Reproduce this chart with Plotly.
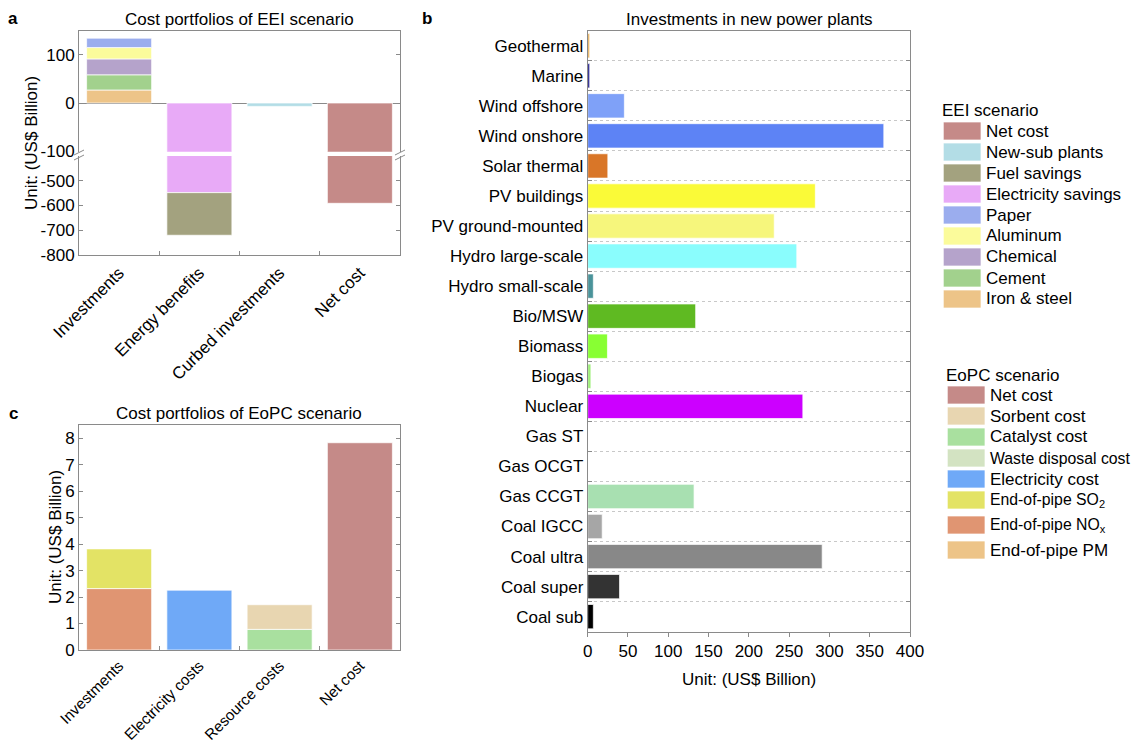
import plotly.graph_objects as go

# The page body has an 8 px margin; the figure is sized to fit the 1143x752 window exactly.
OFF = 8
FW, FH = 1143 - 2 * OFF, 752 - 2 * OFF
FONT = "Arial, Liberation Sans, Helvetica, sans-serif"
GRAY = "#8a8a8a"


def fx(px):
    return (px - OFF) / FW


def fy(py):
    return 1 - (py - OFF) / FH


# ---------------- Panel a: EEI scenario (US$ Billion) ----------------
eei_categories = ["Investments", "Energy benefits", "Curbed investments", "Net cost"]
eei_iron_steel = [27, None, None, None]
eei_cement = [31.5, None, None, None]
eei_chemical = [33, None, None, None]
eei_aluminum = [23.5, None, None, None]
eei_paper = [19.5, None, None, None]
eei_electricity_savings = [None, -548, None, None]
eei_fuel_savings = [None, -172, None, None]
eei_new_sub_plants = [None, None, -7, None]
eei_net_cost = [None, None, None, -591]

eei_upper_ticks = [-100, 0, 100]
eei_lower_ticks = [-800, -700, -600, -500]

eei_legend_labels = ["Net cost", "New-sub plants", "Fuel savings", "Electricity savings",
                     "Paper", "Aluminum", "Chemical", "Cement", "Iron & steel"]

# ---------------- Panel c: EoPC scenario (US$ Billion) ----------------
eopc_categories = ["Investments", "Electricity costs", "Resource costs", "Net cost"]
eopc_nox = [2.32, None, None, None]
eopc_so2 = [1.50, None, None, None]
eopc_electricity = [None, 2.26, None, None]
eopc_catalyst = [None, None, 0.78, None]
eopc_sorbent = [None, None, 0.93, None]
eopc_net_cost = [None, None, None, 7.83]

eopc_legend_labels = ["Net cost", "Sorbent cost", "Catalyst cost", "Waste disposal cost",
                      "Electricity cost", "End-of-pipe SO<sub>2</sub>",
                      "End-of-pipe NO<sub>x</sub>", "End-of-pipe PM"]

# ---------------- Panel b: investments in new power plants ----------------
plant_types = ["Geothermal", "Marine", "Wind offshore", "Wind onshore", "Solar thermal",
               "PV buildings", "PV ground-mounted", "Hydro large-scale", "Hydro small-scale",
               "Bio/MSW", "Biomass", "Biogas", "Nuclear", "Gas ST", "Gas OCGT", "Gas CCGT",
               "Coal IGCC", "Coal ultra", "Coal super", "Coal sub"]
plant_investment = [2.5, 2.5, 45.5, 367.5, 25, 282.5, 231.5, 259.5, 7, 134,
                    24.5, 4, 267, 0, 0, 132, 18, 291, 39.5, 7]

# ---------------- colours ----------------
C_EEI = {
    "Net cost": "#c58a88",
    "New-sub plants": "#b3dde6",
    "Fuel savings": "#a3a27f",
    "Electricity savings": "#e8aaf7",
    "Paper": "#9badee",
    "Aluminum": "#fbfb9b",
    "Chemical": "#b5a3cb",
    "Cement": "#a2d18d",
    "Iron & steel": "#edc488",
}
C_EOPC = ["#c58a88", "#e8d6b1", "#a9e09f", "#d3e3c2", "#6fa9f7", "#e3e365", "#e09572", "#edc488"]
C_PLANT = ["#e8b25c", "#1c1a8a", "#7fa1f8", "#5d83f5", "#d97628", "#fafa38", "#f6f67c",
           "#8afdfd", "#4a939a", "#5fba22", "#88ff33", "#9dee78", "#cc00ff", "#dddddd",
           "#dddddd", "#a8e0b1", "#a6a6a6", "#888888", "#333333", "#000000"]

EDGE = dict(color="rgba(255,255,255,0.7)", width=1)

fig = go.Figure()

# Panel a: same series on the lower (y) and upper (y2) segments of the broken axis
eei_series = [
    ("Iron & steel", eei_iron_steel),
    ("Cement", eei_cement),
    ("Chemical", eei_chemical),
    ("Aluminum", eei_aluminum),
    ("Paper", eei_paper),
    ("Electricity savings", eei_electricity_savings),
    ("Fuel savings", eei_fuel_savings),
    ("New-sub plants", eei_new_sub_plants),
    ("Net cost", eei_net_cost),
]
for xa, ya in (("x", "y"), ("x2", "y2")):
    for name, vals in eei_series:
        fig.add_trace(go.Bar(x=eei_categories, y=vals, name=name, xaxis=xa, yaxis=ya,
                             marker=dict(color=C_EEI[name], line=EDGE), showlegend=False,
                             hovertemplate=name + ": %{y}<extra></extra>"))

# Panel c
eopc_series = [
    ("End-of-pipe NOx", eopc_nox, C_EOPC[6]),
    ("End-of-pipe SO2", eopc_so2, C_EOPC[5]),
    ("Electricity cost", eopc_electricity, C_EOPC[4]),
    ("Catalyst cost", eopc_catalyst, C_EOPC[2]),
    ("Sorbent cost", eopc_sorbent, C_EOPC[1]),
    ("Net cost", eopc_net_cost, C_EOPC[0]),
]
for name, vals, col in eopc_series:
    fig.add_trace(go.Bar(x=eopc_categories, y=vals, name=name, xaxis="x3", yaxis="y3",
                         marker=dict(color=col, line=EDGE), showlegend=False,
                         hovertemplate=name + ": %{y}<extra></extra>"))

# Panel b
fig.add_trace(go.Bar(x=plant_investment, y=plant_types, orientation="h", xaxis="x4", yaxis="y4",
                     marker=dict(color=C_PLANT, line=EDGE), showlegend=False,
                     hovertemplate="%{y}: %{x}<extra></extra>"))

tickfont = dict(family=FONT, size=17, color="black")
axis_common = dict(showline=True, linecolor=GRAY, linewidth=1, tickcolor=GRAY,
                   tickfont=tickfont, showgrid=False, zeroline=False, automargin=False)

a_x = [fx(79), fx(400)]
fig.update_layout(
    width=FW, height=FH, margin=dict(l=0, r=0, t=0, b=0, autoexpand=False),
    paper_bgcolor="white", plot_bgcolor="white",
    barmode="relative", bargap=0.19,
    font=dict(family=FONT, size=17, color="black"),
    # panel a lower segment
    xaxis=dict(domain=a_x, anchor="y", type="category", categoryorder="array",
               categoryarray=eei_categories, tickson="boundaries", ticks="inside", ticklen=4,
               tickangle=-45, **axis_common),
    yaxis=dict(domain=[fy(255.3), fy(156)], anchor="x", range=[-801, -400],
               tickvals=eei_lower_ticks, ticktext=[str(v) for v in eei_lower_ticks],
               ticks="inside", ticklen=4, mirror="ticks", **axis_common),
    # panel a upper segment
    xaxis2=dict(domain=a_x, anchor="y2", matches="x", side="top", showticklabels=False,
                ticks="", showline=True, linecolor=GRAY, showgrid=False, zeroline=False,
                automargin=False),
    yaxis2=dict(domain=[fy(151.7), fy(30.7)], anchor="x2", range=[-101, 150],
                tickvals=eei_upper_ticks, ticktext=[str(v) for v in eei_upper_ticks],
                ticks="inside", ticklen=4, mirror="ticks",
                showline=True, linecolor=GRAY, tickcolor=GRAY, tickfont=tickfont,
                showgrid=False, zeroline=True, zerolinecolor=GRAY, zerolinewidth=1,
                automargin=False),
    # panel c
    xaxis3=dict(domain=a_x, anchor="y3", type="category", categoryorder="array",
                categoryarray=eopc_categories, tickson="boundaries", ticks="inside", ticklen=4,
                tickangle=-45, mirror=True, showline=True, linecolor=GRAY, linewidth=1,
                tickcolor=GRAY, tickfont=dict(family=FONT, size=15.2, color="black"),
                showgrid=False, zeroline=False, automargin=False),
    yaxis3=dict(domain=[fy(650), fy(425)], anchor="x3", range=[0, 8.5], dtick=1,
                ticks="inside", ticklen=4, mirror="ticks", **axis_common),
    # panel b
    xaxis4=dict(domain=[fx(587.7), fx(910)], anchor="y4", range=[0, 400], dtick=50,
                ticks="outside", ticklen=4, mirror=True, **axis_common),
    yaxis4=dict(domain=[fy(631.7), fy(30.7)], anchor="x4", type="category",
                categoryorder="array", categoryarray=plant_types, autorange="reversed",
                tickson="boundaries", ticks="inside", ticklen=4, mirror="ticks",
                showline=True, linecolor=GRAY, tickcolor=GRAY, tickfont=tickfont,
                showgrid=True, gridcolor="#c8c8c8", griddash="dot", gridwidth=1,
                zeroline=False, automargin=False),
)

ann = []
shapes = []


def text(x, y, s, size=17, xanchor="center", yanchor="middle", angle=0, bold=False):
    ann.append(dict(x=fx(x), y=fy(y), xref="paper", yref="paper", text=("<b>%s</b>" % s) if bold else s,
                    showarrow=False, xanchor=xanchor, yanchor=yanchor, textangle=angle,
                    font=dict(family=FONT, size=size, color="black")))


# panel letters and titles
text(13, 18, "a", bold=True)
text(427, 18, "b", bold=True)
text(13, 413, "c", bold=True)
text(239, 19, "Cost portfolios of EEI scenario")
text(749, 19, "Investments in new power plants")
text(239, 414, "Cost portfolios of EoPC scenario")
text(31, 143, "Unit: (US$ Billion)", angle=-90)
text(55, 537, "Unit: (US$ Billion)", angle=-90)
text(749, 679, "Unit: (US$ Billion)")

# axis break marks
for bx in (79, 400):
    for dy in (0, 5):
        shapes.append(dict(type="line", xref="paper", yref="paper",
                           x0=fx(bx - 5), y0=fy(155 + dy), x1=fx(bx + 5), y1=fy(150 + dy),
                           line=dict(color=GRAY, width=1)))

# EEI legend
text(940, 110, "EEI scenario", xanchor="left")
for i, lab in enumerate(eei_legend_labels):
    cy = 131 + 21 * i
    shapes.append(dict(type="rect", xref="paper", yref="paper", x0=fx(943.3), x1=fx(981),
                       y0=fy(cy + 9), y1=fy(cy - 9), fillcolor=C_EEI[lab],
                       line=dict(color="rgba(255,255,255,0.7)", width=1)))
    text(984, cy, lab, xanchor="left")

# EoPC legend
text(944, 375, "EoPC scenario", xanchor="left")
for i, lab in enumerate(eopc_legend_labels):
    cy = 395 + 21 * i + (4 * (i - 5) if i > 5 else 0)
    shapes.append(dict(type="rect", xref="paper", yref="paper", x0=fx(947.3), x1=fx(985),
                       y0=fy(cy + 9), y1=fy(cy - 9), fillcolor=C_EOPC[i],
                       line=dict(color="rgba(255,255,255,0.7)", width=1)))
    text(988, cy, lab, size=(15.8 if len(lab) > 18 else 17), xanchor="left")

fig.update_layout(annotations=ann, shapes=shapes)
fig.write_html("out.html")
